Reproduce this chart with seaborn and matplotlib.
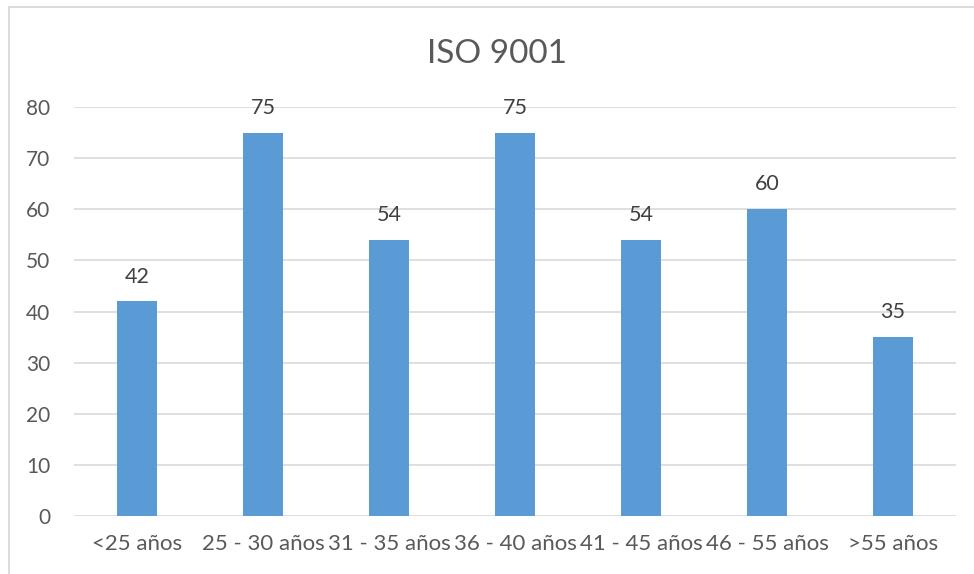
import matplotlib
matplotlib.use("Agg")
import matplotlib.pyplot as plt
import seaborn as sns
import pandas as pd
from matplotlib.patches import Rectangle

categories = ["<25 años", "25 - 30 años", "31 - 35 años", "36 - 40 años",
              "41 - 45 años", "46 - 55 años", ">55 años"]
values = [42, 75, 54, 75, 54, 60, 35]
y_ticks = [0, 10, 20, 30, 40, 50, 60, 70, 80]
title = "ISO 9001"

sns.set_theme(style="white")
plt.rcParams["font.family"] = ["Lato", "DejaVu Sans"]

TEXT = "#595959"
BAR = "#5B9BD5"
GRID = "#D9D9D9"

df = pd.DataFrame({"grupo": categories, "valor": values})

fig = plt.figure(figsize=(9.74, 5.74), dpi=100)
ax = fig.add_axes([74 / 974, 1 - 516 / 574, (956 - 74) / 974, (516 - 107) / 574])

sns.barplot(data=df, x="grupo", y="valor", color=BAR, width=0.317,
            saturation=1, linewidth=0, ax=ax)

ax.set_ylim(0, 80)
ax.set_xlim(-0.5, len(categories) - 0.5)
ax.set_yticks(y_ticks)
ax.yaxis.grid(True, color=GRID, linewidth=1.2)
ax.set_axisbelow(True)
for s in ax.spines.values():
    s.set_visible(False)
ax.set_xlabel("")
ax.set_ylabel("")
ax.tick_params(axis="both", length=0, labelsize=15, labelcolor=TEXT)
ax.tick_params(axis="x", labelsize=16, pad=13)
ax.tick_params(axis="y", pad=17)

for i, v in enumerate(values):
    ax.annotate(f"{v}", (i, v), xytext=(0, 13.5), textcoords="offset points",
                ha="center", va="baseline", fontsize=15.5, color="#404040")

fig.text(497 / 974, 1 - 63 / 574, title, ha="center", va="baseline",
         fontsize=24, color=TEXT)

fig.patches.append(Rectangle((9 / 974, -0.05), 1.2, 1 - 7 / 574 + 0.05,
                             transform=fig.transFigure, fill=False,
                             edgecolor="#D9D9D9", linewidth=1.3))

fig.savefig("out.png", dpi=100)
